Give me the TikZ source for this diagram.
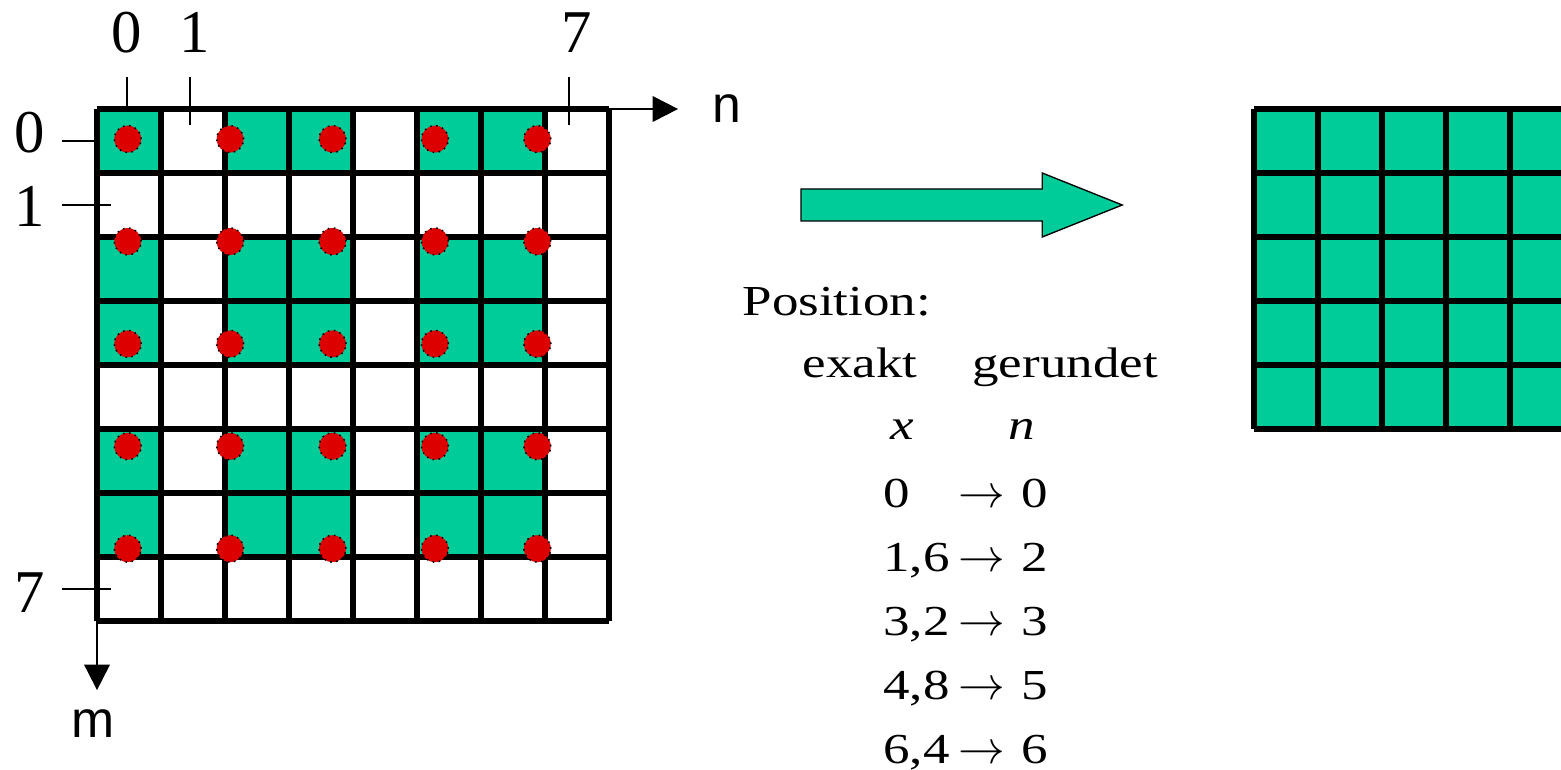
\documentclass[tikz,border=0pt]{standalone}
\usepackage{fontspec}
\setmainfont{Liberation Serif}
\setsansfont{Liberation Sans}
\newfontfamily\widefont[FakeStretch=1.24]{Liberation Serif}
\usetikzlibrary{arrows.meta}
\definecolor{cellgreen}{HTML}{00CC99}
\definecolor{dotred}{HTML}{DD0000}

\begin{document}
\begin{tikzpicture}[
        grid/.style={line width=2.5pt},
        tick/.style={line width=0.9pt},
        axis/.style={line width=0.9pt, -{Triangle[length=0.4cm, width=0.4cm]}},
        sample/.style={circle, fill=dotred, draw=black, dotted, line width=0.7pt, minimum size=0.42cm, inner sep=0pt},
        ticklabel/.style={font=\fontsize{27}{30}\selectfont, inner sep=0pt},
        axislabel/.style={font=\sffamily\fontsize{23}{27}\selectfont, inner sep=0pt},
        tabtext/.style={font=\widefont\fontsize{19}{23}\selectfont, inner sep=0pt},
        maparrow/.style={font=\fontsize{20}{23}\selectfont, inner sep=0pt}
    ]
        \useasboundingbox (-1.516,-10.328) rectangle (22.875,1.703);

        % Green pixels of the sampled image
        \foreach \r in {0,2,3,5,6}
            \foreach \c in {0,2,3,5,6}
                \fill[cellgreen] (\c,-\r) rectangle ++(1,-1);

        % Ticks
        \draw[tick] (0.47,0.5) -- (0.47,0);
        \draw[tick] (1.45,0.5) -- (1.45,-0.25);
        \draw[tick] (7.38,0.5) -- (7.38,-0.25);
        \draw[tick] (-0.55,-0.5) -- (0,-0.5);
        \draw[tick] (-0.55,-1.5) -- (0.22,-1.5);
        \draw[tick] (-0.55,-7.5) -- (0.22,-7.5);

        % Pixel grid
        \draw[grid] (0,-8) grid (8,0);

        % Axes
        \coordinate (origin) at (0,0);
        \coordinate (nend) at (9.08,0);
        \coordinate (mstart) at (0,-8);
        \coordinate (mend) at (0,-9.08);
        \draw[axis] (origin) -- (nend);
        \draw[axis] (mstart) -- (mend);
        \node[axislabel] (nlab) at (9.84,0) {n};
        \node[axislabel] (mlab) at (-0.06,-9.6) {m};

        % Tick labels
        \node[ticklabel] (top0) at (0.47,1.19) {0};
        \node[ticklabel] (top1) at (1.52,1.19) {1};
        \node[ticklabel] (top7) at (7.5,1.19) {7};
        \node[ticklabel] (left0) at (-1.05,-0.37) {0};
        \node[ticklabel] (left1) at (-1.05,-1.53) {1};
        \node[ticklabel] (left7) at (-1.05,-7.55) {7};

        % Sample positions
        \foreach \i in {0,...,4}
            \foreach \j in {0,...,4}
                \node[sample] (s\i\j) at ({0.48+1.6*\j},{-0.47-1.6*\i}) {};

        % Block arrow
        \draw[fill=cellgreen, line width=0.6pt] (11.0,-1.25) -- (14.77,-1.25) -- (14.77,-1.0)
            -- (16.02,-1.5) -- (14.77,-2.0) -- (14.77,-1.75) -- (11.0,-1.75) -- cycle;

        % Rounded image
        \begin{scope}
            \clip (17.9,0.2) rectangle (22.875,-5.2);
            \fill[cellgreen] (18.08,0) rectangle (23.2,-5);
            \draw[grid, xshift=18.08cm] (0,-5) grid (5,0);
        \end{scope}

        % Table
        \node[tabtext, anchor=base west] (pos) at (10.08,-3.22) {Position:};
        \node[tabtext, anchor=base west] (exakt) at (11.02,-4.19) {exakt};
        \node[tabtext, anchor=base west] (gerundet) at (13.67,-4.19) {gerundet};
        \node[tabtext, anchor=base] (xvar) at (12.58,-5.17) {\textit{x}};
        \node[tabtext, anchor=base] (nvar) at (14.45,-5.17) {\textit{n}};
        \foreach \val/\rnd [count=\k] in {0/0, {1,6}/2, {3,2}/3, {4,8}/5, {6,4}/6} {
            \node[tabtext, anchor=base west] (exact\k) at (12.28,{-6.22-(\k-1)}) {\val};
            \node[maparrow, anchor=base] (to\k) at (13.83,{-6.22-(\k-1)}) {$\rightarrow$};
            \node[tabtext, anchor=base west] (round\k) at (14.44,{-6.22-(\k-1)}) {\rnd};
        }

    \end{tikzpicture}
\end{document}
